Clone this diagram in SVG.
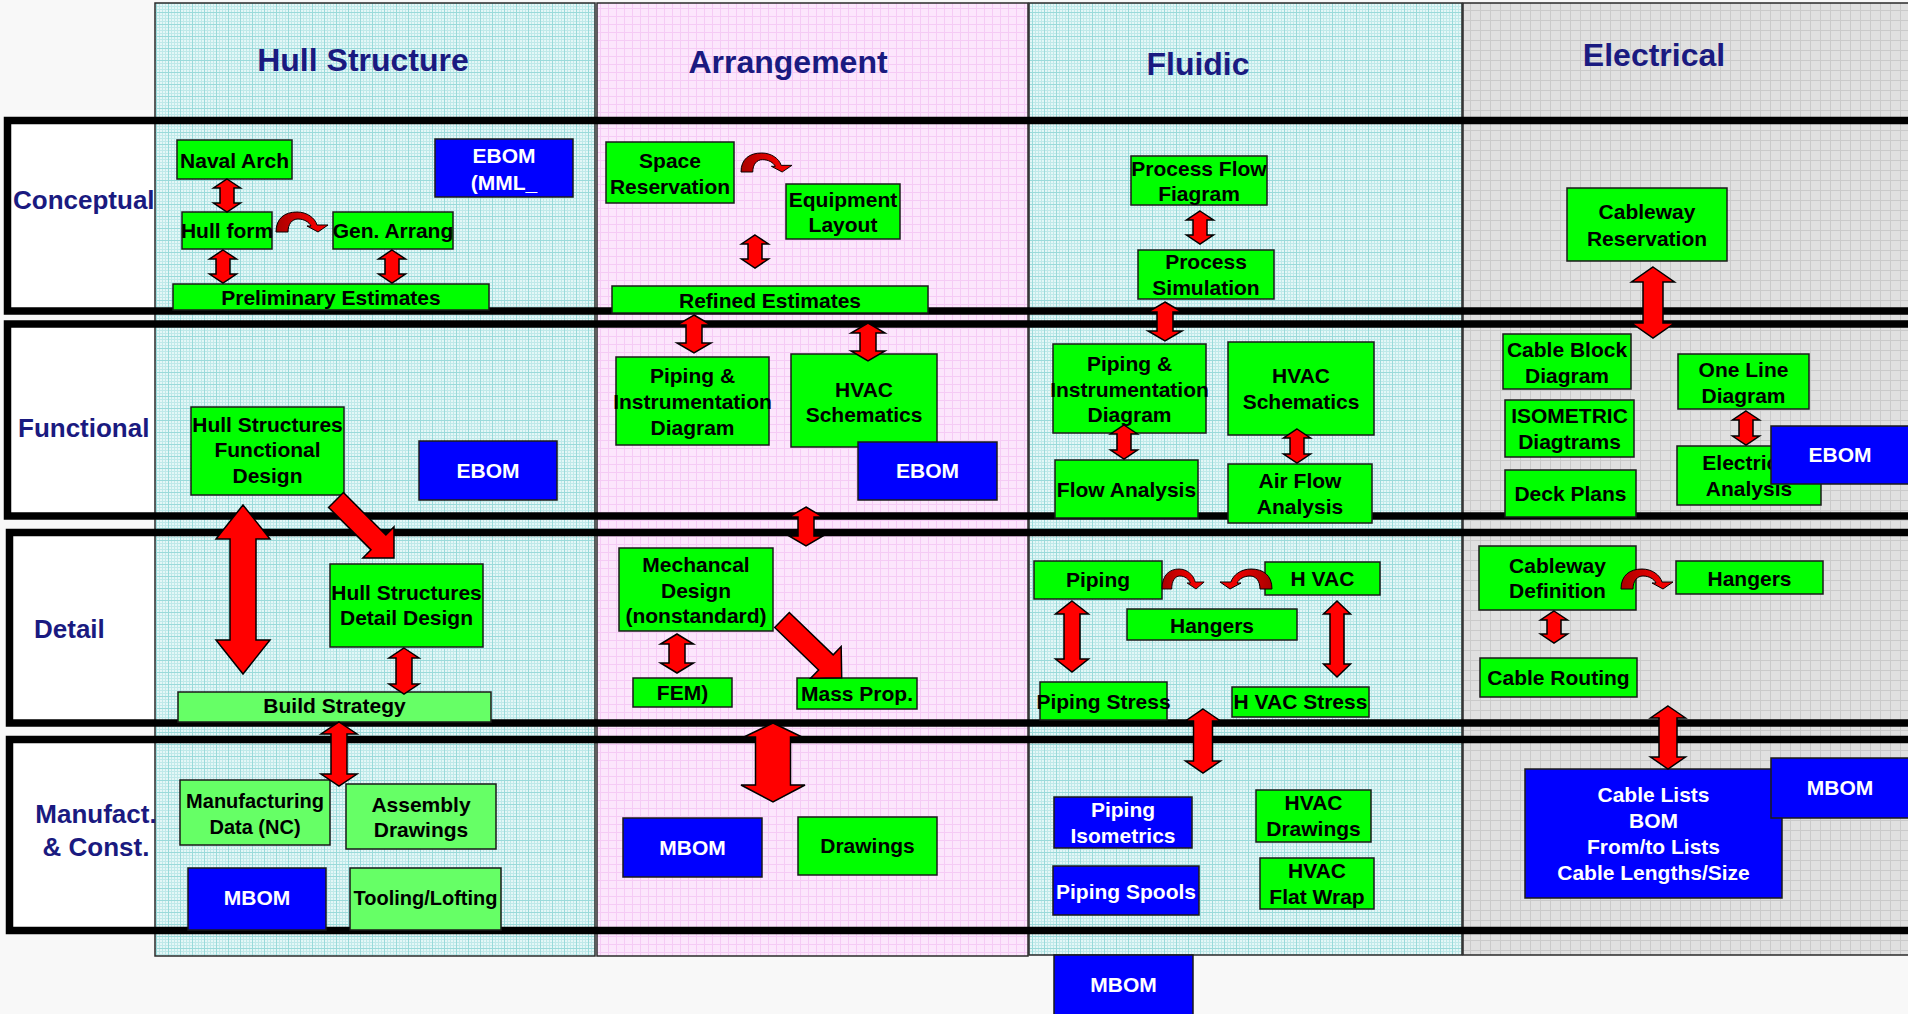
<svg xmlns="http://www.w3.org/2000/svg" width="1908" height="1014" viewBox="0 0 1908 1014">
<defs>
<pattern id="pc" width="12" height="12" patternUnits="userSpaceOnUse">
<rect width="12" height="12" fill="#e4f7f7"/>
<path d="M0 3.5H12M0 6.5H12M0 9.5H12M3.5 0V12M6.5 0V12M9.5 0V12" stroke="#bfe9e9" stroke-width="1"/>
<path d="M0 .5H12M.5 0V12" stroke="#9adada" stroke-width="1"/>
</pattern>
<pattern id="pp" width="8" height="8" patternUnits="userSpaceOnUse">
<rect width="8" height="8" fill="#fce6fc"/>
<path d="M0 .5H8M.5 0V8" stroke="#f5cbf5" stroke-width="1"/>
</pattern>
<pattern id="pg" width="10" height="10" patternUnits="userSpaceOnUse">
<rect width="10" height="10" fill="#e0e0e0"/>
<path d="M0 .5H10M.5 0V10" stroke="#cacaca" stroke-width="1"/>
</pattern>
<linearGradient id="cg" x1="0" y1="0" x2="1" y2="0">
<stop offset="0" stop-color="#a80000"/>
<stop offset="0.55" stop-color="#e00000"/>
<stop offset="1" stop-color="#ff0000"/>
</linearGradient>
<path id="curv" d="M0 20 C0 6 9 0 21 0 C31 0 39 6 41 13 L52 13 L42 20 L31 14 L35 14 C33 10 28 7 22 7 C16 7 12 12 12 20 Z"/>
<style>
text{font-family:"Liberation Sans",Arial,Helvetica,sans-serif;font-weight:bold}
.t{font-size:21px;text-anchor:middle;fill:#000}
.s20 .t{font-size:20px}
.node rect{fill:#00ff00;stroke:#1a1a1a;stroke-width:1.5}
.lg rect{fill:#66ff66}
.b rect{fill:#0000ff}
.b .t{fill:#fff}
.title{font-size:32px;fill:#1a1a80;text-anchor:middle}
.row{font-size:26px;fill:#1a1a80}
.arw{fill:#ff0000;stroke:#000;stroke-width:1.5;stroke-linejoin:miter}
.crv{fill:url(#cg);stroke:#000;stroke-width:1}
.panel{stroke:#2a2a2a;stroke-width:1.5}
.frame{fill:none;stroke:#000;stroke-width:7.5}
</style>
</defs>

<rect width="1908" height="1014" fill="#f8f8f8"/>

<g id="frame-fills" fill="#ffffff">
<rect x="7.5" y="120.5" width="1930" height="190.5"/>
<rect x="7.5" y="324" width="1930" height="192"/>
<rect x="9.5" y="532.5" width="1930" height="190.5"/>
<rect x="9.5" y="739.5" width="1930" height="191"/>
</g>

<g id="panels">
<rect class="panel" x="155" y="3" width="440" height="953" fill="url(#pc)"/>
<rect class="panel" x="597" y="3" width="431" height="953" fill="url(#pp)"/>
<rect class="panel" x="1029" y="3" width="433" height="952" fill="url(#pc)"/>
<rect class="panel" x="1463" y="3" width="460" height="952" fill="url(#pg)"/>
</g>

<g id="titles">
<text class="title" x="363" y="71">Hull Structure</text>
<text class="title" x="788" y="73">Arrangement</text>
<text class="title" x="1198" y="75">Fluidic</text>
<text class="title" x="1654" y="66">Electrical</text>
</g>

<g id="frames">
<rect class="frame" x="7.5" y="120.5" width="1930" height="190.5"/>
<rect class="frame" x="7.5" y="324" width="1930" height="192"/>
<rect class="frame" x="9.5" y="532.5" width="1930" height="190.5"/>
<rect class="frame" x="9.5" y="739.5" width="1930" height="191"/>
</g>

<g id="row-labels">
<text class="row" x="13" y="209">Conceptual</text>
<text class="row" x="18" y="437">Functional</text>
<text class="row" x="34" y="638">Detail</text>
<text class="row" x="96" y="823" text-anchor="middle">Manufact.</text>
<text class="row" x="96" y="856" text-anchor="middle">&amp; Const.</text>
</g>

<!-- Hull Structure nodes -->
<g id="n-naval-arch" class="node"><rect x="177" y="140" width="115" height="39"/><text class="t" x="234.5" y="168">Naval Arch</text></g>
<g id="n-hull-form" class="node"><rect x="182" y="212" width="90" height="37"/><text class="t" x="227" y="238">Hull form</text></g>
<g id="n-gen-arrang" class="node"><rect x="333" y="212" width="120" height="37"/><text class="t" x="393" y="238">Gen. Arrang</text></g>
<g id="n-prelim" class="node"><rect x="173" y="284" width="316" height="26"/><text class="t" x="331" y="305">Preliminary Estimates</text></g>
<g id="n-ebom-mml" class="node b"><rect x="435" y="139" width="138" height="58"/><text class="t" x="504" y="163">EBOM</text><text class="t" x="504" y="190">(MML_</text></g>
<g id="n-hs-func" class="node"><rect x="191" y="407" width="153" height="88"/><text class="t" x="267.5" y="432">Hull Structures</text><text class="t" x="267.5" y="457">Functional</text><text class="t" x="267.5" y="483">Design</text></g>
<g id="n-ebom-hull" class="node b"><rect x="419" y="441" width="138" height="59"/><text class="t" x="488" y="478">EBOM</text></g>
<g id="n-hs-detail" class="node"><rect x="330" y="564" width="153" height="83"/><text class="t" x="406.5" y="600">Hull Structures</text><text class="t" x="406.5" y="625">Detail Design</text></g>
<g id="n-build" class="node lg"><rect x="178" y="692" width="313" height="30"/><text class="t" x="334.5" y="713">Build Strategy</text></g>
<g id="n-mfg-data" class="node lg s20"><rect x="180" y="780" width="150" height="65"/><text class="t" x="255" y="808">Manufacturing</text><text class="t" x="255" y="834">Data (NC)</text></g>
<g id="n-assembly" class="node lg"><rect x="346" y="784" width="150" height="65"/><text class="t" x="421" y="812">Assembly</text><text class="t" x="421" y="837">Drawings</text></g>
<g id="n-mbom-hull" class="node b"><rect x="188" y="868" width="138" height="62"/><text class="t" x="257" y="905">MBOM</text></g>
<g id="n-tooling" class="node lg s20"><rect x="350" y="868" width="151" height="62"/><text class="t" x="425.5" y="905">Tooling/Lofting</text></g>

<!-- Arrangement nodes -->
<g id="n-space-res" class="node"><rect x="606" y="142" width="128" height="61"/><text class="t" x="670" y="168">Space</text><text class="t" x="670" y="194">Reservation</text></g>
<g id="n-equip" class="node"><rect x="786" y="184" width="114" height="55"/><text class="t" x="843" y="207">Equipment</text><text class="t" x="843" y="232">Layout</text></g>
<g id="n-refined" class="node"><rect x="612" y="286" width="316" height="27"/><text class="t" x="770" y="308">Refined Estimates</text></g>
<g id="n-pid-arr" class="node"><rect x="616" y="357" width="153" height="88"/><text class="t" x="692.5" y="383">Piping &amp;</text><text class="t" x="692.5" y="409">Instrumentation</text><text class="t" x="692.5" y="435">Diagram</text></g>
<g id="n-hvac-arr" class="node"><rect x="791" y="354" width="146" height="93"/><text class="t" x="864" y="397">HVAC</text><text class="t" x="864" y="422">Schematics</text></g>
<g id="n-ebom-arr" class="node b"><rect x="858" y="442" width="139" height="58"/><text class="t" x="927.5" y="478">EBOM</text></g>
<g id="n-mech" class="node"><rect x="619" y="548" width="154" height="83"/><text class="t" x="696" y="572">Mechancal</text><text class="t" x="696" y="598">Design</text><text class="t" x="696" y="623">(nonstandard)</text></g>
<g id="n-fem" class="node"><rect x="633" y="678" width="99" height="29"/><text class="t" x="682.5" y="700">FEM)</text></g>
<g id="n-mass" class="node"><rect x="797" y="678" width="120" height="31"/><text class="t" x="857" y="701">Mass Prop.</text></g>
<g id="n-mbom-arr" class="node b"><rect x="623" y="818" width="139" height="59"/><text class="t" x="692.5" y="855">MBOM</text></g>
<g id="n-drawings" class="node"><rect x="798" y="817" width="139" height="58"/><text class="t" x="867.5" y="853">Drawings</text></g>

<!-- Fluidic nodes -->
<g id="n-pfd" class="node"><rect x="1131" y="156" width="136" height="49"/><text class="t" x="1199" y="176">Process Flow</text><text class="t" x="1199" y="201">Fiagram</text></g>
<g id="n-psim" class="node"><rect x="1138" y="250" width="136" height="49"/><text class="t" x="1206" y="269">Process</text><text class="t" x="1206" y="295">Simulation</text></g>
<g id="n-pid-flu" class="node"><rect x="1053" y="344" width="153" height="89"/><text class="t" x="1129.5" y="371">Piping &amp;</text><text class="t" x="1129.5" y="397">Instrumentation</text><text class="t" x="1129.5" y="422">Diagram</text></g>
<g id="n-hvac-flu" class="node"><rect x="1228" y="342" width="146" height="93"/><text class="t" x="1301" y="383">HVAC</text><text class="t" x="1301" y="409">Schematics</text></g>
<g id="n-flow" class="node"><rect x="1055" y="460" width="143" height="58"/><text class="t" x="1126.5" y="497">Flow Analysis</text></g>
<g id="n-airflow" class="node"><rect x="1228" y="464" width="144" height="59"/><text class="t" x="1300" y="488">Air Flow</text><text class="t" x="1300" y="514">Analysis</text></g>
<g id="n-piping" class="node"><rect x="1034" y="561" width="128" height="38"/><text class="t" x="1098" y="587">Piping</text></g>
<g id="n-hvac-det" class="node"><rect x="1265" y="562" width="115" height="33"/><text class="t" x="1322.5" y="586">H VAC</text></g>
<g id="n-hangers-flu" class="node"><rect x="1127" y="609" width="170" height="31"/><text class="t" x="1212" y="633">Hangers</text></g>
<g id="n-pstress" class="node"><rect x="1040" y="682" width="127" height="38"/><text class="t" x="1103.5" y="709">Piping Stress</text></g>
<g id="n-hstress" class="node"><rect x="1232" y="687" width="137" height="30"/><text class="t" x="1300.5" y="709">H VAC Stress</text></g>
<g id="n-piso" class="node b"><rect x="1054" y="797" width="138" height="51"/><text class="t" x="1123" y="817">Piping</text><text class="t" x="1123" y="843">Isometrics</text></g>
<g id="n-hvac-draw" class="node"><rect x="1256" y="790" width="115" height="52"/><text class="t" x="1313.5" y="810">HVAC</text><text class="t" x="1313.5" y="836">Drawings</text></g>
<g id="n-pspools" class="node b"><rect x="1053" y="866" width="146" height="49"/><text class="t" x="1126" y="899">Piping Spools</text></g>
<g id="n-flatwrap" class="node"><rect x="1260" y="858" width="114" height="51"/><text class="t" x="1317" y="878">HVAC</text><text class="t" x="1317" y="904">Flat Wrap</text></g>
<g id="n-mbom-flu" class="node b"><rect x="1054" y="955" width="139" height="66"/><text class="t" x="1123.5" y="992">MBOM</text></g>

<!-- Electrical nodes -->
<g id="n-cable-res" class="node"><rect x="1567" y="188" width="160" height="73"/><text class="t" x="1647" y="219">Cableway</text><text class="t" x="1647" y="246">Reservation</text></g>
<g id="n-cable-block" class="node"><rect x="1503" y="334" width="128" height="55"/><text class="t" x="1567" y="357">Cable Block</text><text class="t" x="1567" y="383">Diagram</text></g>
<g id="n-isometric" class="node"><rect x="1505" y="400" width="129" height="57"/><text class="t" x="1569.5" y="423">ISOMETRIC</text><text class="t" x="1569.5" y="449">Diagtrams</text></g>
<g id="n-deck" class="node"><rect x="1505" y="470" width="131" height="47"/><text class="t" x="1570.5" y="501">Deck Plans</text></g>
<g id="n-oneline" class="node"><rect x="1678" y="354" width="131" height="55"/><text class="t" x="1743.5" y="377">One Line</text><text class="t" x="1743.5" y="403">Diagram</text></g>
<g id="n-elec-analysis" class="node"><rect x="1677" y="446" width="144" height="59"/><text class="t" x="1749" y="470">Electrical</text><text class="t" x="1749" y="496">Analysis</text></g>
<g id="n-ebom-ele" class="node b"><rect x="1771" y="426" width="145" height="58"/><text class="t" x="1840" y="462">EBOM</text></g>
<g id="n-cable-def" class="node"><rect x="1479" y="546" width="157" height="64"/><text class="t" x="1557.5" y="573">Cableway</text><text class="t" x="1557.5" y="598">Definition</text></g>
<g id="n-hangers-ele" class="node"><rect x="1676" y="561" width="147" height="33"/><text class="t" x="1749.5" y="586">Hangers</text></g>
<g id="n-cable-routing" class="node"><rect x="1480" y="658" width="157" height="39"/><text class="t" x="1558.5" y="685">Cable Routing</text></g>
<g id="n-cable-lists" class="node b"><rect x="1525" y="769" width="257" height="129"/><text class="t" x="1653.5" y="802">Cable Lists</text><text class="t" x="1653.5" y="828">BOM</text><text class="t" x="1653.5" y="854">From/to Lists</text><text class="t" x="1653.5" y="880">Cable Lengths/Size</text></g>
<g id="n-mbom-ele" class="node b"><rect x="1771" y="758" width="145" height="60"/><text class="t" x="1840" y="795">MBOM</text></g>

<g id="connectors">
<path class="arw" d="M227 179 L240.5 188 L234 188 L234 203 L240.5 203 L227 212 L213.5 203 L220 203 L220 188 L213.5 188 Z"/>
<path class="arw" d="M223 250 L236.5 259 L230 259 L230 274 L236.5 274 L223 283 L209.5 274 L216 274 L216 259 L209.5 259 Z"/>
<path class="arw" d="M392 250 L405.5 259 L399 259 L399 274 L405.5 274 L392 283 L378.5 274 L385 274 L385 259 L378.5 259 Z"/>
<path class="arw" d="M243 505 L270 539 L256 539 L256 640 L270 640 L243 674 L216 640 L230 640 L230 539 L216 539 Z"/>
<path class="arw" d="M404 648 L419 658 L412 658 L412 684 L419 684 L404 694 L389 684 L396 684 L396 658 L389 658 Z"/>
<path class="arw" d="M339 722 L357 734 L347 734 L347 774 L357 774 L339 786 L321 774 L331 774 L331 734 L321 734 Z"/>
<path class="arw" d="M0 -10.5 L60 -10.5 L60 -22 L82 0 L60 22 L60 10.5 L0 10.5 Z" transform="translate(336 500) rotate(45)"/>
<use href="#curv" class="crv" transform="translate(276 212)"/>

<path class="arw" d="M755 235 L768.5 244 L762 244 L762 259 L768.5 259 L755 268 L741.5 259 L748 259 L748 244 L741.5 244 Z"/>
<path class="arw" d="M694 315 L711 325 L702 325 L702 343 L711 343 L694 353 L677 343 L686 343 L686 325 L677 325 Z"/>
<path class="arw" d="M868 323 L885 333 L876 333 L876 351 L885 351 L868 361 L851 351 L860 351 L860 333 L851 333 Z"/>
<path class="arw" d="M806 507 L823 517 L814 517 L814 536 L823 536 L806 546 L789 536 L798 536 L798 517 L789 517 Z"/>
<path class="arw" d="M677 634 L693.5 644 L685 644 L685 663 L693.5 663 L677 673 L660.5 663 L669 663 L669 644 L660.5 644 Z"/>
<path class="arw" d="M773 723 L802 737 L790.5 737 L790.5 785 L805 785 L773 802 L741 785 L755.5 785 L755.5 737 L744 737 Z"/>
<path class="arw" d="M0 -10.5 L61 -10.5 L61 -22 L83 0 L61 22 L61 10.5 L0 10.5 Z" transform="translate(782 620) rotate(44)"/>
<use href="#curv" class="crv" transform="translate(741 153) scale(0.98 0.95)"/>

<path class="arw" d="M1200 211 L1213.5 220 L1207 220 L1207 235 L1213.5 235 L1200 244 L1186.5 235 L1193 235 L1193 220 L1186.5 220 Z"/>
<path class="arw" d="M1165 302 L1182 312 L1173 312 L1173 331 L1182 331 L1165 341 L1148 331 L1157 331 L1157 312 L1148 312 Z"/>
<path class="arw" d="M1124 425 L1137.5 434 L1131 434 L1131 450 L1137.5 450 L1124 459 L1110.5 450 L1117 450 L1117 434 L1110.5 434 Z"/>
<path class="arw" d="M1297 429 L1310.5 438 L1304 438 L1304 454 L1310.5 454 L1297 463 L1283.5 454 L1290 454 L1290 438 L1283.5 438 Z"/>
<path class="arw" d="M1072 601 L1088.5 614 L1080 614 L1080 659 L1088.5 659 L1072 672 L1055.5 659 L1064 659 L1064 614 L1055.5 614 Z"/>
<path class="arw" d="M1337 601 L1350.5 614 L1344 614 L1344 664 L1350.5 664 L1337 677 L1323.5 664 L1330 664 L1330 614 L1323.5 614 Z"/>
<path class="arw" d="M1203 709 L1220.5 721 L1212.5 721 L1212.5 761 L1220.5 761 L1203 773 L1185.5 761 L1193.5 761 L1193.5 721 L1185.5 721 Z"/>
<use href="#curv" class="crv" transform="translate(1162 569) scale(0.81 1)"/>
<use href="#curv" class="crv" transform="translate(1272 569) scale(-1 1)"/>

<path class="arw" d="M1653 267 L1674.5 282 L1663 282 L1663 323 L1674.5 323 L1653 338 L1631.5 323 L1643 323 L1643 282 L1631.5 282 Z"/>
<path class="arw" d="M1746 411 L1759.5 420 L1753 420 L1753 436 L1759.5 436 L1746 445 L1732.5 436 L1739 436 L1739 420 L1732.5 420 Z"/>
<path class="arw" d="M1554 611 L1567.5 620 L1561 620 L1561 634 L1567.5 634 L1554 643 L1540.5 634 L1547 634 L1547 620 L1540.5 620 Z"/>
<path class="arw" d="M1668 706 L1685.5 718 L1677 718 L1677 757 L1685.5 757 L1668 769 L1650.5 757 L1659 757 L1659 718 L1650.5 718 Z"/>
<use href="#curv" class="crv" transform="translate(1621 569)"/>
</g>
</svg>
